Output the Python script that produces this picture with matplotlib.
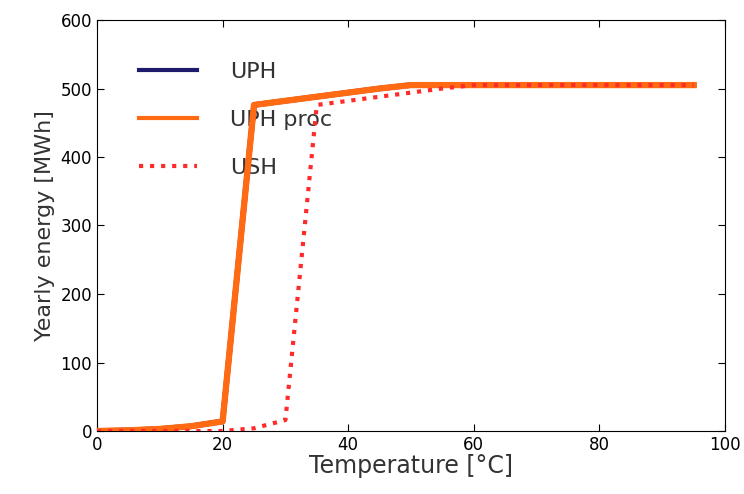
import numpy as np
import matplotlib.pyplot as plt

# Температури та річна енергія
temps = [0, 5, 10, 15, 20, 25, 30, 35, 40, 45, 50, 55, 60, 65, 70, 75, 80, 85, 90, 95]
uph = [0, 1, 3, 7, 14, 476, 482, 488, 494, 500, 505, 505, 505, 505, 505, 505, 505, 505, 505, 505]
uph_proc = [0, 1, 3, 7, 14, 476, 482, 488, 494, 500, 505, 505, 505, 505, 505, 505, 505, 505, 505, 505]
ush = [0, 0, 0, 0, 0, 4, 16, 476, 482, 488, 494, 500, 505, 505, 505, 505, 505, 505, 505, 505]

fig = plt.figure(figsize=(7.44, 4.94), dpi=100)
ax = fig.add_axes([97 / 744, 1 - 431 / 494, 628 / 744, 411 / 494])

ax.plot(temps, uph, color='#1f1a6b', lw=4, label='UPH', zorder=3)
ax.plot(temps, uph_proc, color='#ff6a13', lw=4.5, label='UPH proc', zorder=4)
ax.plot(temps, ush, color='#ff2a2a', lw=3, ls=':', label='USH', zorder=5)

ax.set_xlim(0, 100)
ax.set_ylim(0, 600)
ax.set_xticks(np.arange(0, 101, 20))
ax.set_yticks(np.arange(0, 601, 100))
ax.tick_params(direction='in', top=True, right=True, labelsize=12, length=5)
ax.set_xlabel('Temperature [°C]', fontsize=17, color='#333333', labelpad=0)
ax.set_ylabel('Yearly energy [MWh]', fontsize=16, color='#333333')

leg = ax.legend(loc='upper left', frameon=False, fontsize=16, handlelength=2.6,
                handletextpad=1.5, labelspacing=1.25, borderaxespad=1.5)
leg.set_zorder(2)
for line in leg.get_lines():
    line.set_linewidth(3)
for t in leg.get_texts():
    t.set_color('#333333')

fig.savefig('out.png', dpi=100)
